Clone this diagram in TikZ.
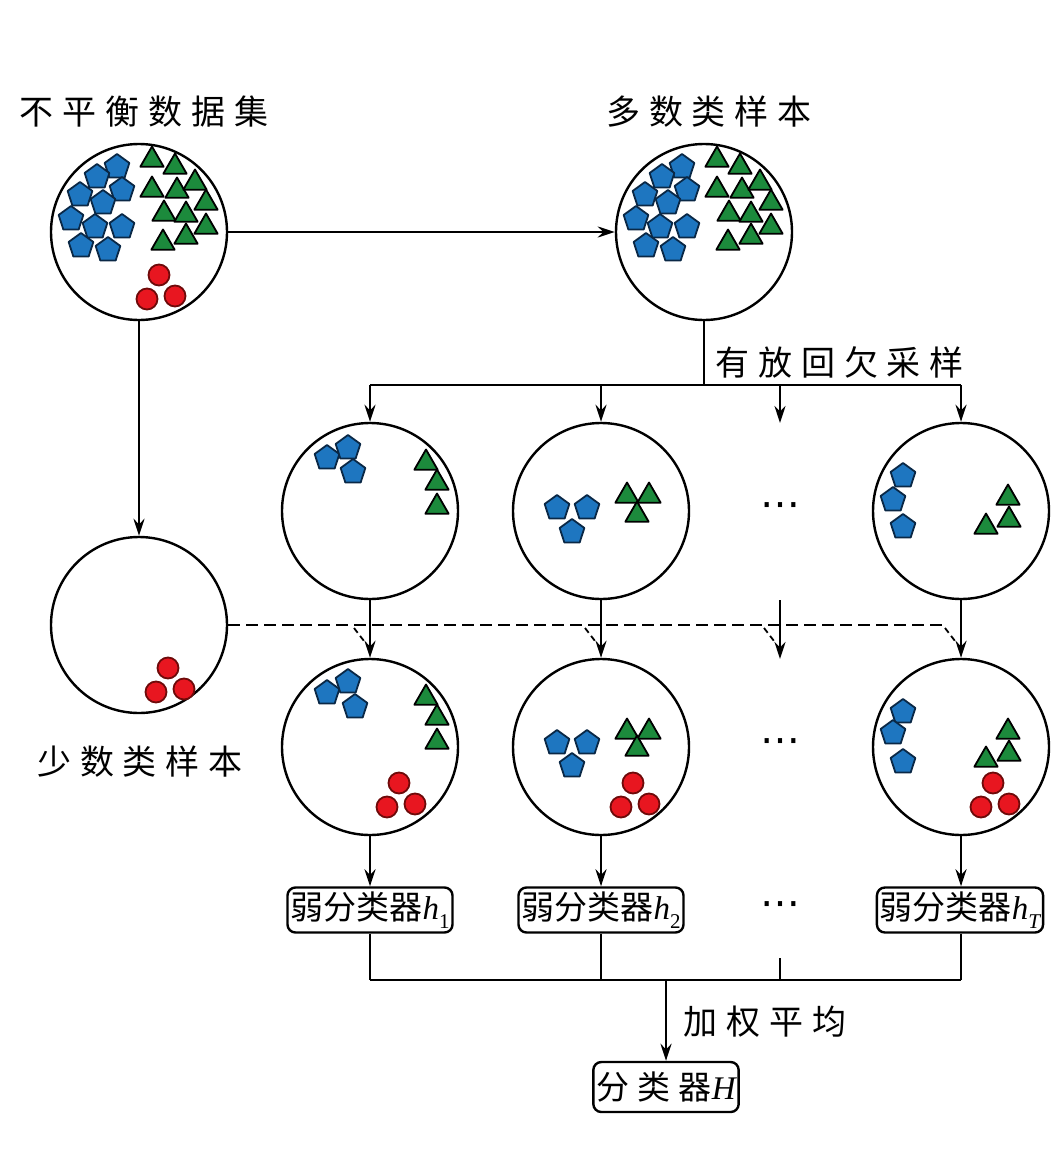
\documentclass[tikz,border=0pt]{standalone}
\usepackage{fontspec}
\usetikzlibrary{arrows.meta,shapes.geometric}
\newfontfamily\cjk{Noto Sans CJK SC}
\newfontfamily\lserif{Liberation Serif}
\newfontfamily\dvs{DejaVu Sans}
\definecolor{pblue}{RGB}{30,118,192}
\definecolor{pbluedk}{RGB}{10,40,70}
\definecolor{tgreen}{RGB}{28,138,60}
\definecolor{rred}{RGB}{232,22,32}
\definecolor{rreddk}{RGB}{110,10,10}
\newcommand\shP[2]{\filldraw[fill=pblue,draw=pbluedk,line width=1.8pt,line join=round] (#1,#2) +(90:13pt) -- +(162:13pt) -- +(234:13pt) -- +(306:13pt) -- +(18:13pt) -- cycle;}
\newcommand\shT[2]{\filldraw[fill=tgreen,draw=black,line width=1.8pt,line join=round] (#1,#2) +(90:13.5pt) -- +(210:13.5pt) -- +(330:13.5pt) -- cycle;}
\newcommand\shR[2]{\filldraw[fill=rred,draw=rreddk,line width=1.8pt] (#1,#2) circle[radius=10.5pt];}
\newcommand\majcluster{%
  \shP{-22}{-65}\shP{-42}{-55}\shP{-17}{-42}\shP{-59}{-37}\shP{-36}{-29}%
  \shP{-68}{-13}\shP{-44}{-5}\shP{-17}{-5}\shP{-58}{14}\shP{-31}{18}%
  \shT{13}{-72}\shT{36}{-65}\shT{13}{-42}\shT{38}{-41}\shT{56}{-49}%
  \shT{67}{-29}\shT{25}{-18}\shT{47}{-17}\shT{67}{-5}\shT{47}{5}\shT{24}{11}}
\newcommand\minorcluster[2]{\shR{#1}{#2}\shR{#1-12}{#2+24}\shR{#1+16}{#2+21}}
\newcommand\hsub[2]{{\lserif\itshape #1}\raisebox{-0.28em}{\lserif\fontsize{21}{21}\selectfont #2}}
\tikzset{
  setc/.style={circle,draw,line width=2.4pt,minimum size=176pt,inner sep=0pt},
  ln/.style={line width=2.4pt},
  arr/.style={line width=2.4pt,-{Stealth[length=17pt,width=11pt]}},
  boxc/.style={draw,rounded corners=8pt,line width=2.4pt,inner sep=3pt,minimum height=45pt,font=\cjk\fontsize{33}{38}\selectfont},
  lab/.style={font=\cjk\fontsize{34}{40}\selectfont\addfontfeature{LetterSpace=26}},
  dotsn/.style={font=\dvs\fontsize{40}{40}\selectfont},
  dsh/.style={line width=2.4pt,dash pattern=on 12pt off 6pt}
}
\begin{document}
\begin{tikzpicture}[x=1pt,y=-1pt]
\useasboundingbox (0,0) rectangle (1062,1164);
% titles
\node[lab] (t0) at (144,112) {不平衡数据集};
\node[lab] (t1) at (709,112) {多数类样本};
\node[lab,anchor=west] (t2) at (712,362) {有放回欠采样};
\node[lab] (t3) at (140,762) {少数类样本};
\node[lab,anchor=west] (t4) at (680,1022) {加权平均};
% circles
\node[setc] (all) at (139,232) {};
\node[setc] (maj) at (704,232) {};
\node[setc] (mino) at (139,625) {};
\node[setc] (s1) at (370,511) {};
\node[setc] (s2) at (601,511) {};
\node[setc] (s3) at (961,511) {};
\node[dotsn] (d1) at (780,510) {⋯};
\node[setc] (m1) at (370,747) {};
\node[setc] (m2) at (601,747) {};
\node[setc] (m3) at (961,747) {};
\node[dotsn] (d2) at (780,746) {⋯};
% contents
\begin{scope}[shift={(139,232)}] \majcluster \minorcluster{20}{43} \end{scope}
\begin{scope}[shift={(704,232)}] \majcluster \end{scope}
\begin{scope}[shift={(139,625)}] \minorcluster{29}{43} \end{scope}
\begin{scope}[shift={(370,511)}]
 \shP{-43}{-53}\shP{-22}{-63}\shP{-17}{-39}\shT{56}{-48}\shT{67}{-28}\shT{67}{-4}
\end{scope}
\begin{scope}[shift={(370,747)}]
 \shP{-43}{-54}\shP{-22}{-65}\shP{-15}{-40}\shT{56}{-49}\shT{67}{-29}\shT{67}{-5}\minorcluster{29}{36}
\end{scope}
\begin{scope}[shift={(601,511)}]
 \shP{-44}{-3}\shP{-14}{-3}\shP{-29}{21}\shT{26}{-15}\shT{48}{-15}\shT{36}{4}
\end{scope}
\begin{scope}[shift={(601,747)}]
 \shP{-44}{-4}\shP{-14}{-4}\shP{-29}{19}\shT{26}{-15}\shT{48}{-15}\shT{36}{2}\minorcluster{32}{36}
\end{scope}
\begin{scope}[shift={(961,511)}]
 \shP{-58}{-35}\shP{-68}{-11}\shP{-58}{16}\shT{47}{-13}\shT{48}{9}\shT{25}{16}
\end{scope}
\begin{scope}[shift={(961,747)}]
 \shP{-58}{-35}\shP{-68}{-14}\shP{-58}{15}\shT{47}{-15}\shT{48}{7}\shT{25}{13}\minorcluster{32}{36}
\end{scope}
% boxes
\node[boxc] (h1) at (370,910) {弱分类器\hsub{h}{1}};
\node[boxc] (h2) at (601,910) {弱分类器\hsub{h}{2}};
\node[dotsn] (d3) at (780,909) {⋯};
\node[boxc] (h3) at (960,910) {弱分类器\hsub{h}{\itshape T}};
\node[boxc,minimum height=50pt,font=\cjk\fontsize{33}{38}\selectfont\addfontfeature{LetterSpace=25}] (H) at (666,1087) {分类器{\lserif\itshape H}};
% connectors
\draw[arr] (all.east) -- (maj.west);
\draw[arr] (all.south) -- (mino.north);
\coordinate (j) at (704,385);
\coordinate (ja) at (370,385);
\coordinate (jb) at (601,385);
\coordinate (jc) at (780,385);
\coordinate (jd) at (961,385);
\coordinate (je) at (780,423);
\draw[ln] (maj.south) -- (j);
\draw[ln] (ja) -- (jd);
\draw[arr] (ja) -- (s1.north);
\draw[arr] (jb) -- (s2.north);
\draw[arr] (jc) -- (je);
\draw[arr] (jd) -- (s3.north);
\coordinate (k1) at (780,600);
\coordinate (k2) at (780,659);
\draw[arr] (s1.south) -- (m1.north);
\draw[arr] (s2.south) -- (m2.north);
\draw[arr] (k1) -- (k2);
\draw[arr] (s3.south) -- (m3.north);
% dashed minority line
\coordinate (q0) at (945,625);
\draw[dsh] (mino.east) -- (q0);
\foreach \xx in {370,601,780,961}{
  \draw[line width=1.8pt,dash pattern=on 6pt off 4pt] (\xx-16,628) -- (\xx-6,641);
}
\draw[arr] (m1.south) -- (h1.north);
\draw[arr] (m2.south) -- (h2.north);
\draw[arr] (m3.south) -- (m3.south |- h3.north);
\coordinate (b1) at (370,980);
\coordinate (b2) at (601,980);
\coordinate (b3) at (780,980);
\coordinate (b3t) at (780,958);
\coordinate (b4) at (961,980);
\coordinate (bm) at (666,980);
\draw[ln] (h1.south) -- (b1);
\draw[ln] (h2.south) -- (b2);
\draw[ln] (b3t) -- (b3);
\draw[ln] (m3.south |- h3.south) -- (b4);
\draw[ln] (b1) -- (b4);
\draw[arr] (bm) -- (H.north);
\end{tikzpicture}
\end{document}
